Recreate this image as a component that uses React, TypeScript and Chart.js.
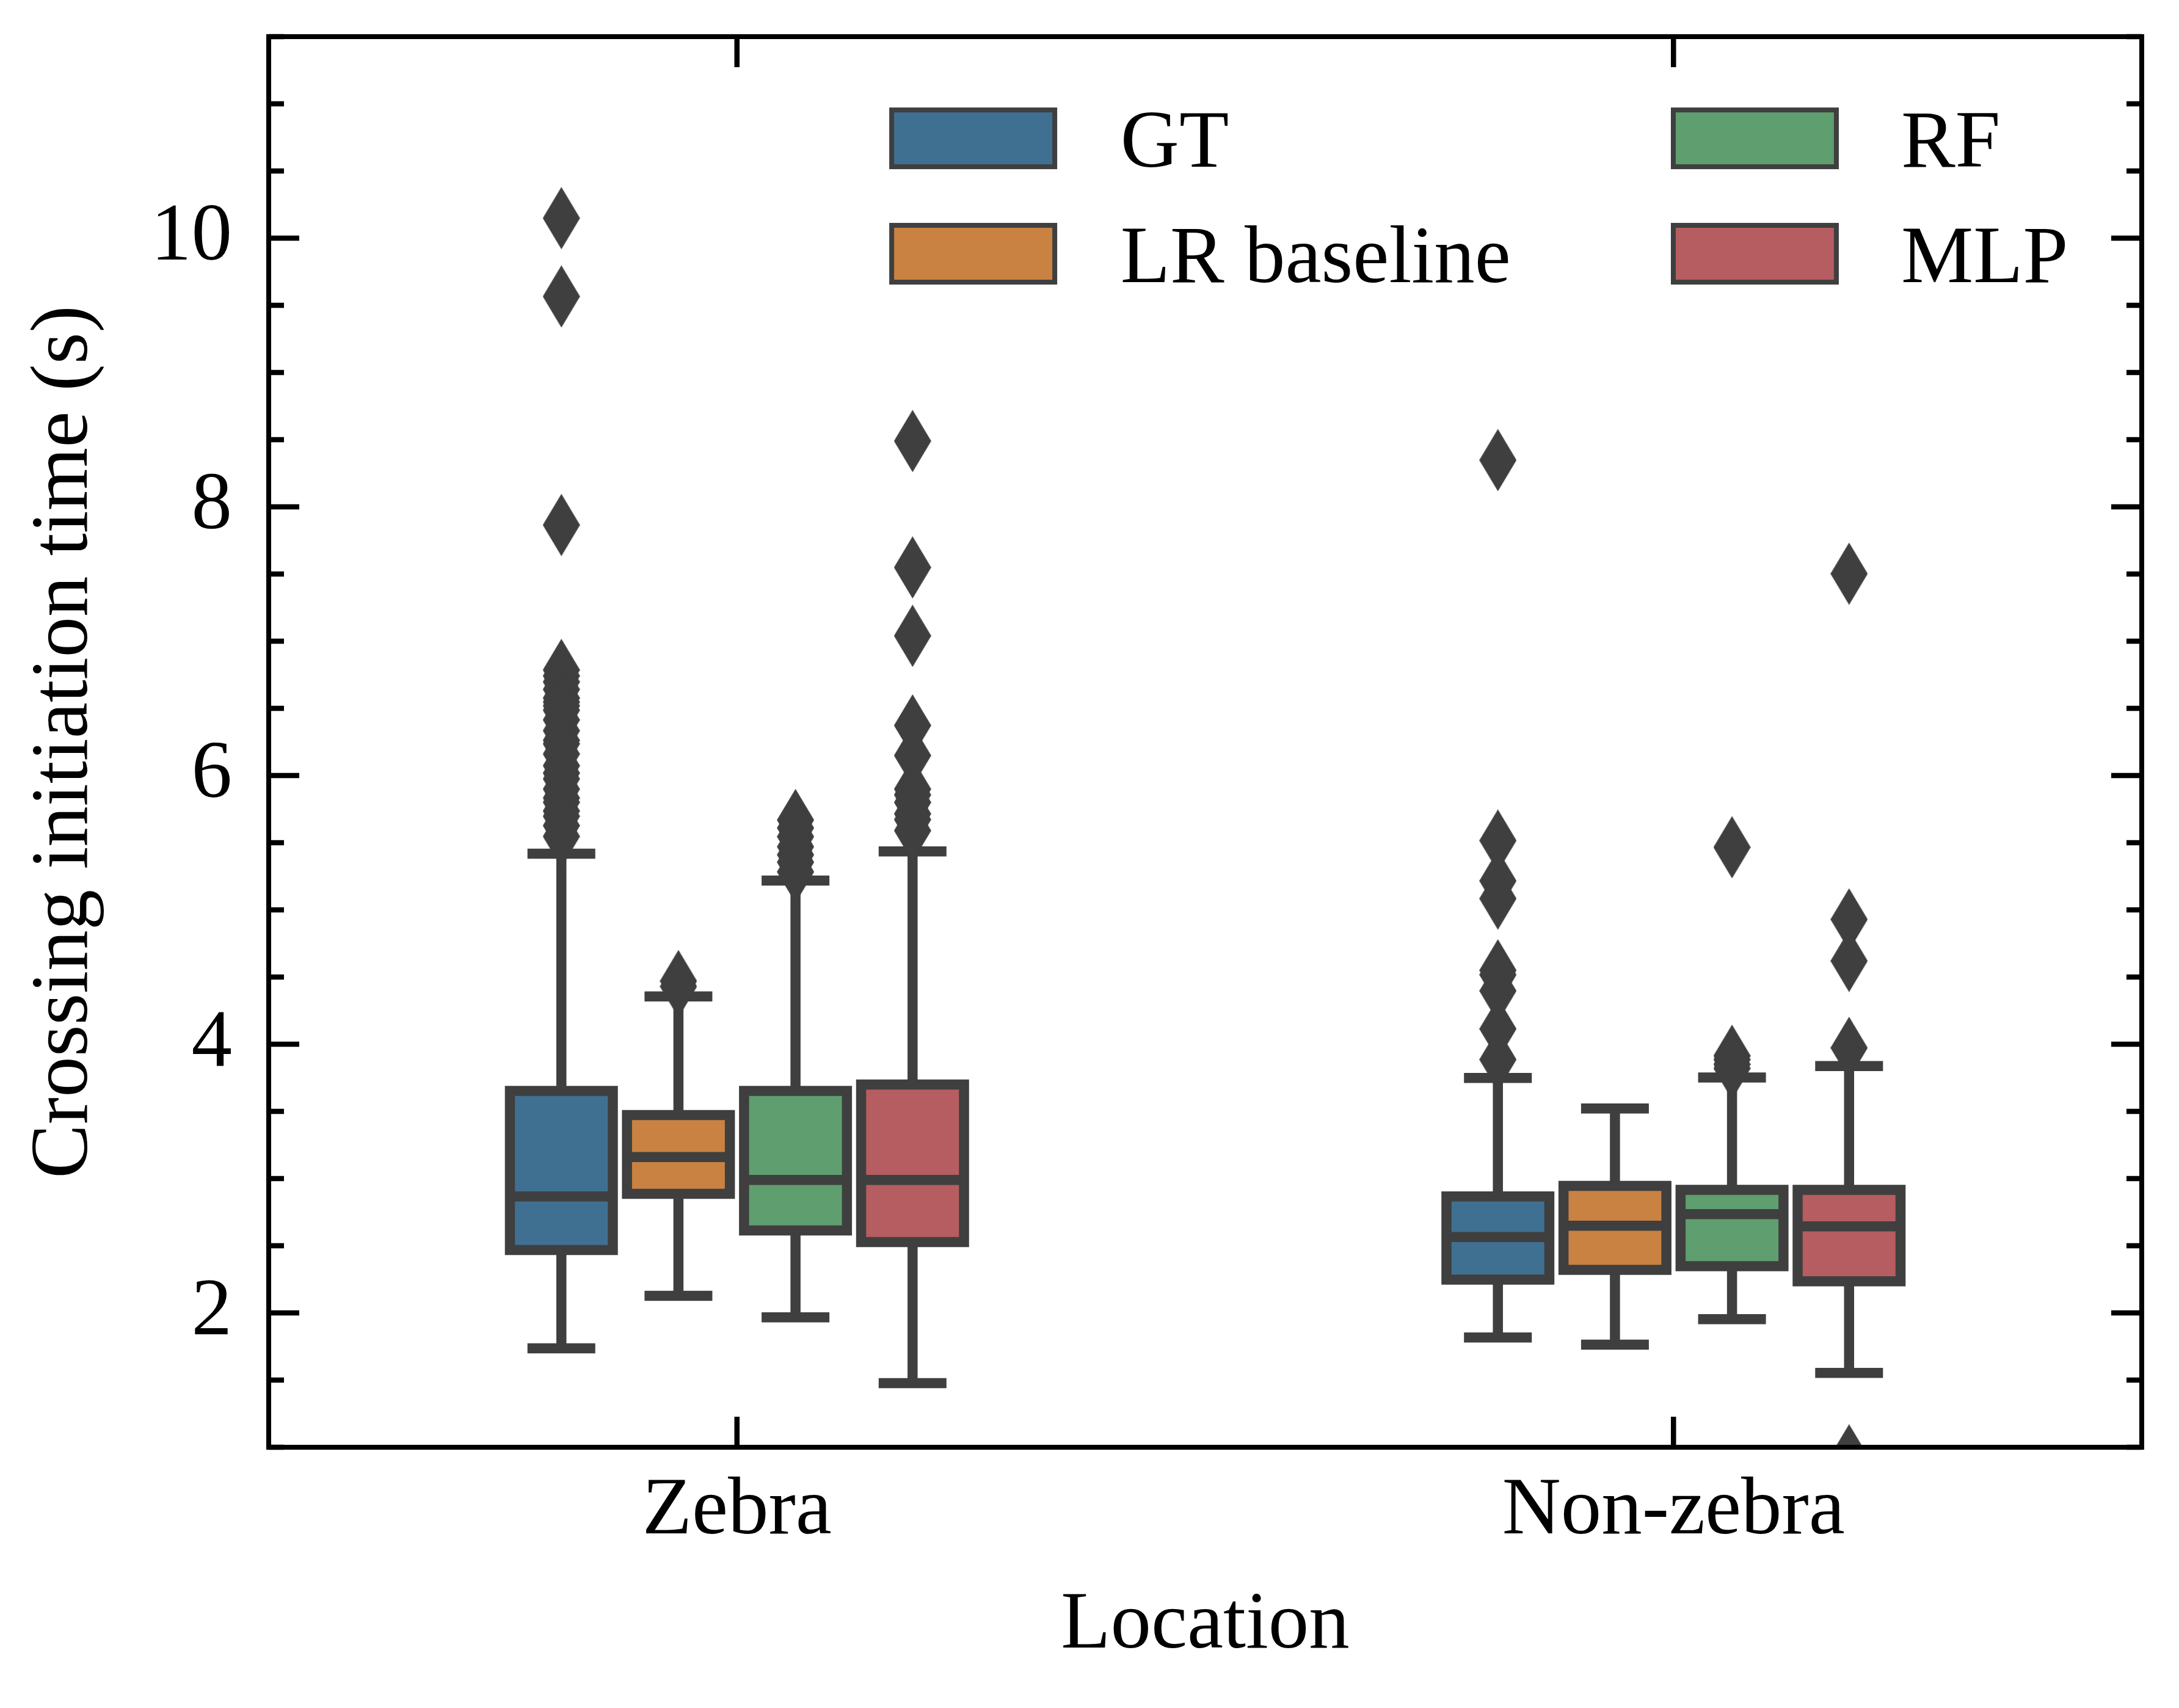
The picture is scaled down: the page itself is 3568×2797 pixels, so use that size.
import { useEffect, useRef } from "react";
import { Chart, registerables } from "chart.js";

Chart.register(...registerables);

// categories and hue levels
const locations = ["Zebra", "Non-zebra"];
const models = ["GT", "LR baseline", "RF", "MLP"];
const colors = ["#3f7091", "#c98242", "#5f9e6e", "#b55d60"];
const EDGE = "#3f3f3f";

// box statistics, one row per model, [Zebra, Non-zebra]
const whiskerLow = [
  [1.736, 1.817],
  [2.127, 1.764],
  [1.967, 1.953],
  [1.477, 1.553],
];
const q1 = [
  [2.468, 2.248],
  [2.886, 2.321],
  [2.614, 2.348],
  [2.527, 2.235],
];
const median = [
  [2.867, 2.565],
  [3.16, 2.649],
  [2.99, 2.735],
  [2.99, 2.644],
];
const q3 = [
  [3.652, 2.867],
  [3.473, 2.945],
  [3.652, 2.916],
  [3.7, 2.916],
];
const whiskerHigh = [
  [5.418, 3.749],
  [4.356, 3.522],
  [5.218, 3.752],
  [5.435, 3.838],
];

// fliers, [Zebra, Non-zebra]
const gtOutliers = [
  [10.149, 9.566, 7.865, 6.786, 6.742, 6.697, 6.641, 6.577, 6.547, 6.519, 6.486, 6.414, 6.334,
    6.262, 6.236, 6.16, 6.073, 6.018, 5.975, 5.899, 5.833, 5.801, 5.736, 5.697, 5.627, 5.547],
  [8.348, 5.516, 5.216, 5.084, 4.55, 4.517, 4.397, 4.114, 3.886],
];
const lrOutliers = [[4.47, 4.43], []];
const rfOutliers = [
  [5.669, 5.61, 5.545, 5.47, 5.41, 5.355, 5.283],
  [5.466, 3.914, 3.886, 3.85, 3.82],
];
const mlpOutliers = [
  [8.49, 7.549, 7.04, 6.373, 6.149, 5.899, 5.856, 5.8, 5.715, 5.672, 5.59],
  [7.502, 4.929, 4.62, 3.973, 0.94],
];
const outliers = [gtOutliers, lrOutliers, rfOutliers, mlpOutliers];

const yMajorTicks = [2, 4, 6, 8, 10];

const FONT = "'Liberation Serif', 'Times New Roman', serif";
const FONT_SIZE = 133;
const LW = 16.5;
const SLOT = 0.125; // 0.5 group width / 4 hues
const BAR_PCT = 0.879;
const BOX_HALF = (SLOT * BAR_PCT) / 2;
const CAP_HALF = 0.0362;

const gap = { x: null, y: null };
const slotX = (m: number, c: number) => c + (m - 1.5) * SLOT;

const framePlugin = {
  id: "frame",
  afterDatasetsDraw(chart: any) {
    const { ctx, chartArea: a, scales } = chart;
    const { x, y } = scales;
    ctx.save();
    ctx.strokeStyle = "#000";
    ctx.lineCap = "butt";
    ctx.lineWidth = 8.5;
    ctx.beginPath();
    for (let k = 2; k <= 23; k++) {
      const v = k / 2;
      const py = y.getPixelForValue(v);
      const len = yMajorTicks.includes(v) ? 50 : 25;
      ctx.moveTo(a.left, py);
      ctx.lineTo(a.left + len, py);
      ctx.moveTo(a.right, py);
      ctx.lineTo(a.right - len, py);
    }
    x.ticks.forEach((t: any) => {
      const px = x.getPixelForValue(t.value);
      ctx.moveTo(px, a.bottom);
      ctx.lineTo(px, a.bottom - 50);
      ctx.moveTo(px, a.top);
      ctx.lineTo(px, a.top + 50);
    });
    ctx.stroke();
    ctx.lineWidth = 8;
    ctx.strokeRect(a.left, a.top, a.right - a.left, a.bottom - a.top);
    ctx.restore();
  },
};

const legendPlugin = {
  id: "boxLegend",
  afterDraw(chart: any) {
    const { ctx, chartArea: a } = chart;
    const w = a.right - a.left;
    const h = a.bottom - a.top;
    const cols = [
      { patch: 0.3313, text: 0.4548, items: [0, 1] },
      { patch: 0.7486, text: 0.8715, items: [2, 3] },
    ];
    const rows = [0.0721, 0.1539];
    ctx.save();
    ctx.font = `${FONT_SIZE}px ${FONT}`;
    ctx.textAlign = "left";
    ctx.textBaseline = "alphabetic";
    cols.forEach((col) => {
      col.items.forEach((m, r) => {
        const cy = a.top + rows[r] * h;
        const px = a.left + col.patch * w;
        ctx.fillStyle = EDGE;
        ctx.fillRect(px, cy - 50.5, 275, 101);
        ctx.fillStyle = colors[m];
        ctx.fillRect(px + 8, cy - 42.5, 259, 85);
        ctx.fillStyle = "#000";
        ctx.fillText(models[m], a.left + col.text * w, cy + 46);
      });
    });
    ctx.restore();
  },
};

export default function App() {
  const canvasRef = useRef<HTMLCanvasElement>(null);

  useEffect(() => {
    if (!canvasRef.current) return;

    // thin diamond flier marker
    const diamond = document.createElement("canvas");
    diamond.width = 61;
    diamond.height = 102;
    const dctx = diamond.getContext("2d")!;
    dctx.fillStyle = EDGE;
    dctx.beginPath();
    dctx.moveTo(30.5, 0);
    dctx.lineTo(61, 51);
    dctx.lineTo(30.5, 102);
    dctx.lineTo(0, 51);
    dctx.closePath();
    dctx.fill();

    const datasets: any[] = [];
    models.forEach((name, m) => {
      // box fill
      datasets.push({
        type: "bar",
        label: name,
        data: locations.map((_, c) => ({ x: slotX(m, c), y: [q1[m][c], q3[m][c]] })),
        backgroundColor: colors[m],
        borderWidth: 0,
        grouped: false,
        categoryPercentage: 1,
        barPercentage: BAR_PCT,
        order: 3,
      });

      const outline: any[] = [];
      const whiskers: any[] = [];
      const medians: any[] = [];
      locations.forEach((_, c) => {
        const cx = slotX(m, c);
        outline.push(
          { x: cx - BOX_HALF, y: q1[m][c] }, { x: cx + BOX_HALF, y: q1[m][c] },
          { x: cx + BOX_HALF, y: q3[m][c] }, { x: cx - BOX_HALF, y: q3[m][c] },
          { x: cx - BOX_HALF, y: q1[m][c] }, { x: cx + BOX_HALF, y: q1[m][c] }, gap
        );
        whiskers.push(
          { x: cx, y: q3[m][c] }, { x: cx, y: whiskerHigh[m][c] }, gap,
          { x: cx - CAP_HALF, y: whiskerHigh[m][c] }, { x: cx + CAP_HALF, y: whiskerHigh[m][c] }, gap,
          { x: cx, y: q1[m][c] }, { x: cx, y: whiskerLow[m][c] }, gap,
          { x: cx - CAP_HALF, y: whiskerLow[m][c] }, { x: cx + CAP_HALF, y: whiskerLow[m][c] }, gap
        );
        medians.push({ x: cx - BOX_HALF, y: median[m][c] }, { x: cx + BOX_HALF, y: median[m][c] }, gap);
      });
      const lineStyle = {
        type: "line",
        borderColor: EDGE,
        borderWidth: LW,
        borderCapStyle: "butt",
        borderJoinStyle: "miter",
        pointRadius: 0,
        spanGaps: false,
      };
      datasets.push({ ...lineStyle, label: name + " whiskers", data: whiskers, order: 4 });
      datasets.push({ ...lineStyle, label: name + " box", data: outline, order: 2 });
      datasets.push({ ...lineStyle, label: name + " median", data: medians, order: 2 });
      datasets.push({
        type: "scatter",
        label: name + " outliers",
        data: outliers[m].flatMap((vals, c) => vals.map((v) => ({ x: slotX(m, c), y: v }))),
        pointStyle: diamond,
        pointRadius: 52,
        clip: 0,
        order: 1,
      });
    });

    const chart = new Chart(canvasRef.current, {
      type: "bar",
      data: { datasets },
      options: {
        animation: false,
        responsive: true,
        maintainAspectRatio: false,
        events: [],
        layout: { padding: { top: 60, right: 61, bottom: 0, left: 0 } },
        font: { family: FONT, size: FONT_SIZE },
        plugins: { legend: { display: false }, tooltip: { enabled: false } },
        scales: {
          x: {
            type: "linear",
            min: -0.5,
            max: 1.5,
            offset: false,
            border: { display: false },
            grid: { display: false, drawTicks: false },
            afterBuildTicks: (s: any) => {
              s.ticks = locations.map((_, i) => ({ value: i }));
            },
            afterFit: (s: any) => {
              s.height = 427;
              s.paddingLeft = 0;
              s.paddingRight = 0;
            },
            ticks: {
              padding: 26,
              maxRotation: 0,
              autoSkip: false,
              color: "#000",
              font: { family: FONT, size: FONT_SIZE },
              callback: (v: any) => locations[v] ?? "",
            },
            title: {
              display: true,
              text: "Location",
              color: "#000",
              font: { family: FONT, size: FONT_SIZE },
              padding: { top: 0, bottom: 54 },
            },
          },
          y: {
            type: "linear",
            min: 1,
            max: 11.5,
            border: { display: false },
            grid: { display: false, drawTicks: false },
            afterBuildTicks: (s: any) => {
              s.ticks = yMajorTicks.map((v) => ({ value: v }));
            },
            afterFit: (s: any) => {
              s.width = 440;
              s.paddingTop = 0;
              s.paddingBottom = 0;
            },
            ticks: {
              padding: 60,
              color: "#000",
              font: { family: FONT, size: FONT_SIZE },
              callback: (v: any) => String(v),
            },
            title: {
              display: true,
              text: "Crossing initiation time (s)",
              color: "#000",
              font: { family: FONT, size: FONT_SIZE },
              padding: { top: 27, bottom: 0 },
            },
          },
        },
      } as any,
      plugins: [framePlugin, legendPlugin],
    });

    return () => chart.destroy();
  }, []);

  return (
    <div style={{ position: "fixed", left: 0, top: 0, width: 3568, height: 2797, background: "#fff" }}>
      <canvas ref={canvasRef} />
    </div>
  );
}
